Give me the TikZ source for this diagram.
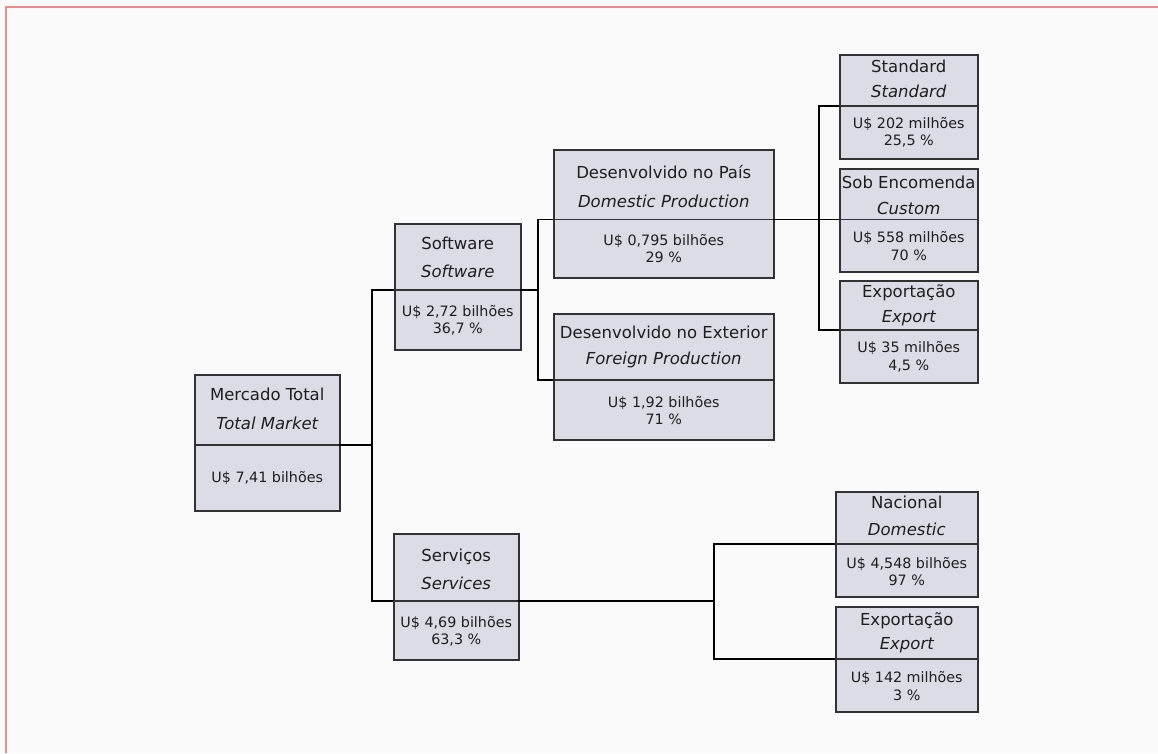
\documentclass[tikz,border=0pt]{standalone}
\usepackage{fontspec}
\setmainfont{DejaVu Sans}
\definecolor{boxfill}{RGB}{220,220,230}
\definecolor{boxline}{RGB}{50,50,54}
\definecolor{txt}{RGB}{30,30,30}
\definecolor{bg}{RGB}{250,250,250}
\definecolor{frame}{RGB}{234,140,140}
\newcommand\mkbox[6]{%
  \node[boxst, minimum width={#4-#2}, minimum height={#5-#3}] (#1) at (#2,#3) {};
  \coordinate (#1-l) at (#2,#6);
  \coordinate (#1-r) at (#4,#6);
  \draw[div] (#1-l) -- (#1-r);
}
\begin{document}
\begin{tikzpicture}[x=1pt,y=-1pt,
  boxst/.style={draw=boxline, line width=1.5pt, fill=boxfill, anchor=north west, inner sep=0pt},
  div/.style={draw=boxline, line width=1.3pt},
  ttl/.style={font=\fontsize{16.5}{18}\selectfont, text=txt, inner sep=0pt, text height=11pt, text depth=0pt},
  ttli/.style={ttl, font=\fontsize{16.5}{18}\selectfont\itshape},
  val/.style={font=\fontsize{14.3}{16}\selectfont, text=txt, inner sep=0pt, text height=10pt, text depth=0pt},
  conn/.style={draw=black, line width=1.3pt}]
\fill[bg] (0,0) rectangle (1158,753);
\useasboundingbox (0,0) rectangle (1158,753);
\draw[frame, line width=2pt] (5.5,753) -- (5.5,6.5) -- (1158,6.5);

% boxes
\mkbox{mt}{194}{374}{339}{510}{445}
\mkbox{sw}{394}{223}{520}{349}{290}
\mkbox{sv}{393}{533}{518}{659}{601}
\mkbox{dp}{553}{149}{773}{277}{219.5}
\mkbox{fp}{553}{313}{773}{439}{380}
\mkbox{st}{839}{54}{977}{158}{106}
\mkbox{cu}{839}{168}{977}{271}{219.5}
\mkbox{exa}{839}{280}{977}{382}{330}
\mkbox{na}{835}{491}{977}{596}{544}
\mkbox{exb}{835}{606}{977}{711}{659}

% texts
\node[ttl]  (mt-a) at (mt.north |- 0,395) {Mercado Total};
\node[ttli] (mt-b) at (mt.north |- 0,424) {Total Market};
\node[val]  (mt-c) at (mt.north |- 0,477) {U\$ 7,41 bilhões};

\node[ttl]  (sw-a) at (sw.north |- 0,244) {Software};
\node[ttli] (sw-b) at (sw.north |- 0,272) {Software};
\node[val]  (sw-c) at (sw.north |- 0,311) {U\$ 2,72 bilhões};
\node[val]  (sw-d) at (sw.north |- 0,328) {36,7 \%};

\node[ttl]  (sv-a) at (sv.north |- 0,556) {Serviços};
\node[ttli] (sv-b) at (sv.north |- 0,584) {Services};
\node[val]  (sv-c) at (sv.north |- 0,622) {U\$ 4,69 bilhões};
\node[val]  (sv-d) at (sv.north |- 0,639) {63,3 \%};

\node[ttl]  (dp-a) at (dp.north |- 0,173) {Desenvolvido no País};
\node[ttli] (dp-b) at (dp.north |- 0,202) {Domestic Production};
\node[val]  (dp-c) at (dp.north |- 0,240) {U\$ 0,795 bilhões};
\node[val]  (dp-d) at (dp.north |- 0,257) {29 \%};

\node[ttl]  (fp-a) at (fp.north |- 0,333) {Desenvolvido no Exterior};
\node[ttli] (fp-b) at (fp.north |- 0,359) {Foreign Production};
\node[val]  (fp-c) at (fp.north |- 0,402) {U\$ 1,92 bilhões};
\node[val]  (fp-d) at (fp.north |- 0,419) {71 \%};

\node[ttl]  (st-a) at (st.north |- 0,67) {Standard};
\node[ttli] (st-b) at (st.north |- 0,92) {Standard};
\node[val]  (st-c) at (st.north |- 0,123) {U\$ 202 milhões};
\node[val]  (st-d) at (st.north |- 0,140) {25,5 \%};

\node[ttl]  (cu-a) at (cu.north |- 0,183) {Sob Encomenda};
\node[ttli] (cu-b) at (cu.north |- 0,209) {Custom};
\node[val]  (cu-c) at (cu.north |- 0,237) {U\$ 558 milhões};
\node[val]  (cu-d) at (cu.north |- 0,255) {70 \%};

\node[ttl]  (exa-a) at (exa.north |- 0,292) {Exportação};
\node[ttli] (exa-b) at (exa.north |- 0,317) {Export};
\node[val]  (exa-c) at (exa.north |- 0,347) {U\$ 35 milhões};
\node[val]  (exa-d) at (exa.north |- 0,365) {4,5 \%};

\node[ttl]  (na-a) at (na.north |- 0,503) {Nacional};
\node[ttli] (na-b) at (na.north |- 0,530) {Domestic};
\node[val]  (na-c) at (na.north |- 0,563) {U\$ 4,548 bilhões};
\node[val]  (na-d) at (na.north |- 0,580) {97 \%};

\node[ttl]  (exb-a) at (exb.north |- 0,620) {Exportação};
\node[ttli] (exb-b) at (exb.north |- 0,644) {Export};
\node[val]  (exb-c) at (exb.north |- 0,677) {U\$ 142 milhões};
\node[val]  (exb-d) at (exb.north |- 0,695) {3 \%};

% connectors
\coordinate (j1) at (372,445);
\coordinate (j2) at (538,290);
\coordinate (j3) at (819,219.5);
\coordinate (j4) at (714,601);
\draw[conn] (mt-r) -- (j1);
\draw[conn] (sw-l) -| (j1) |- (sv-l);
\draw[conn] (sw-r) -- (j2);
\draw[conn] (dp-l) -| (j2) |- (fp-l);
\draw[conn] (dp-r) -- (cu-l);
\draw[conn] (st-l) -| (j3) |- (exa-l);
\draw[conn] (sv-r) -- (j4);
\draw[conn] (na-l) -| (j4) |- (exb-l);
\end{tikzpicture}
\end{document}
